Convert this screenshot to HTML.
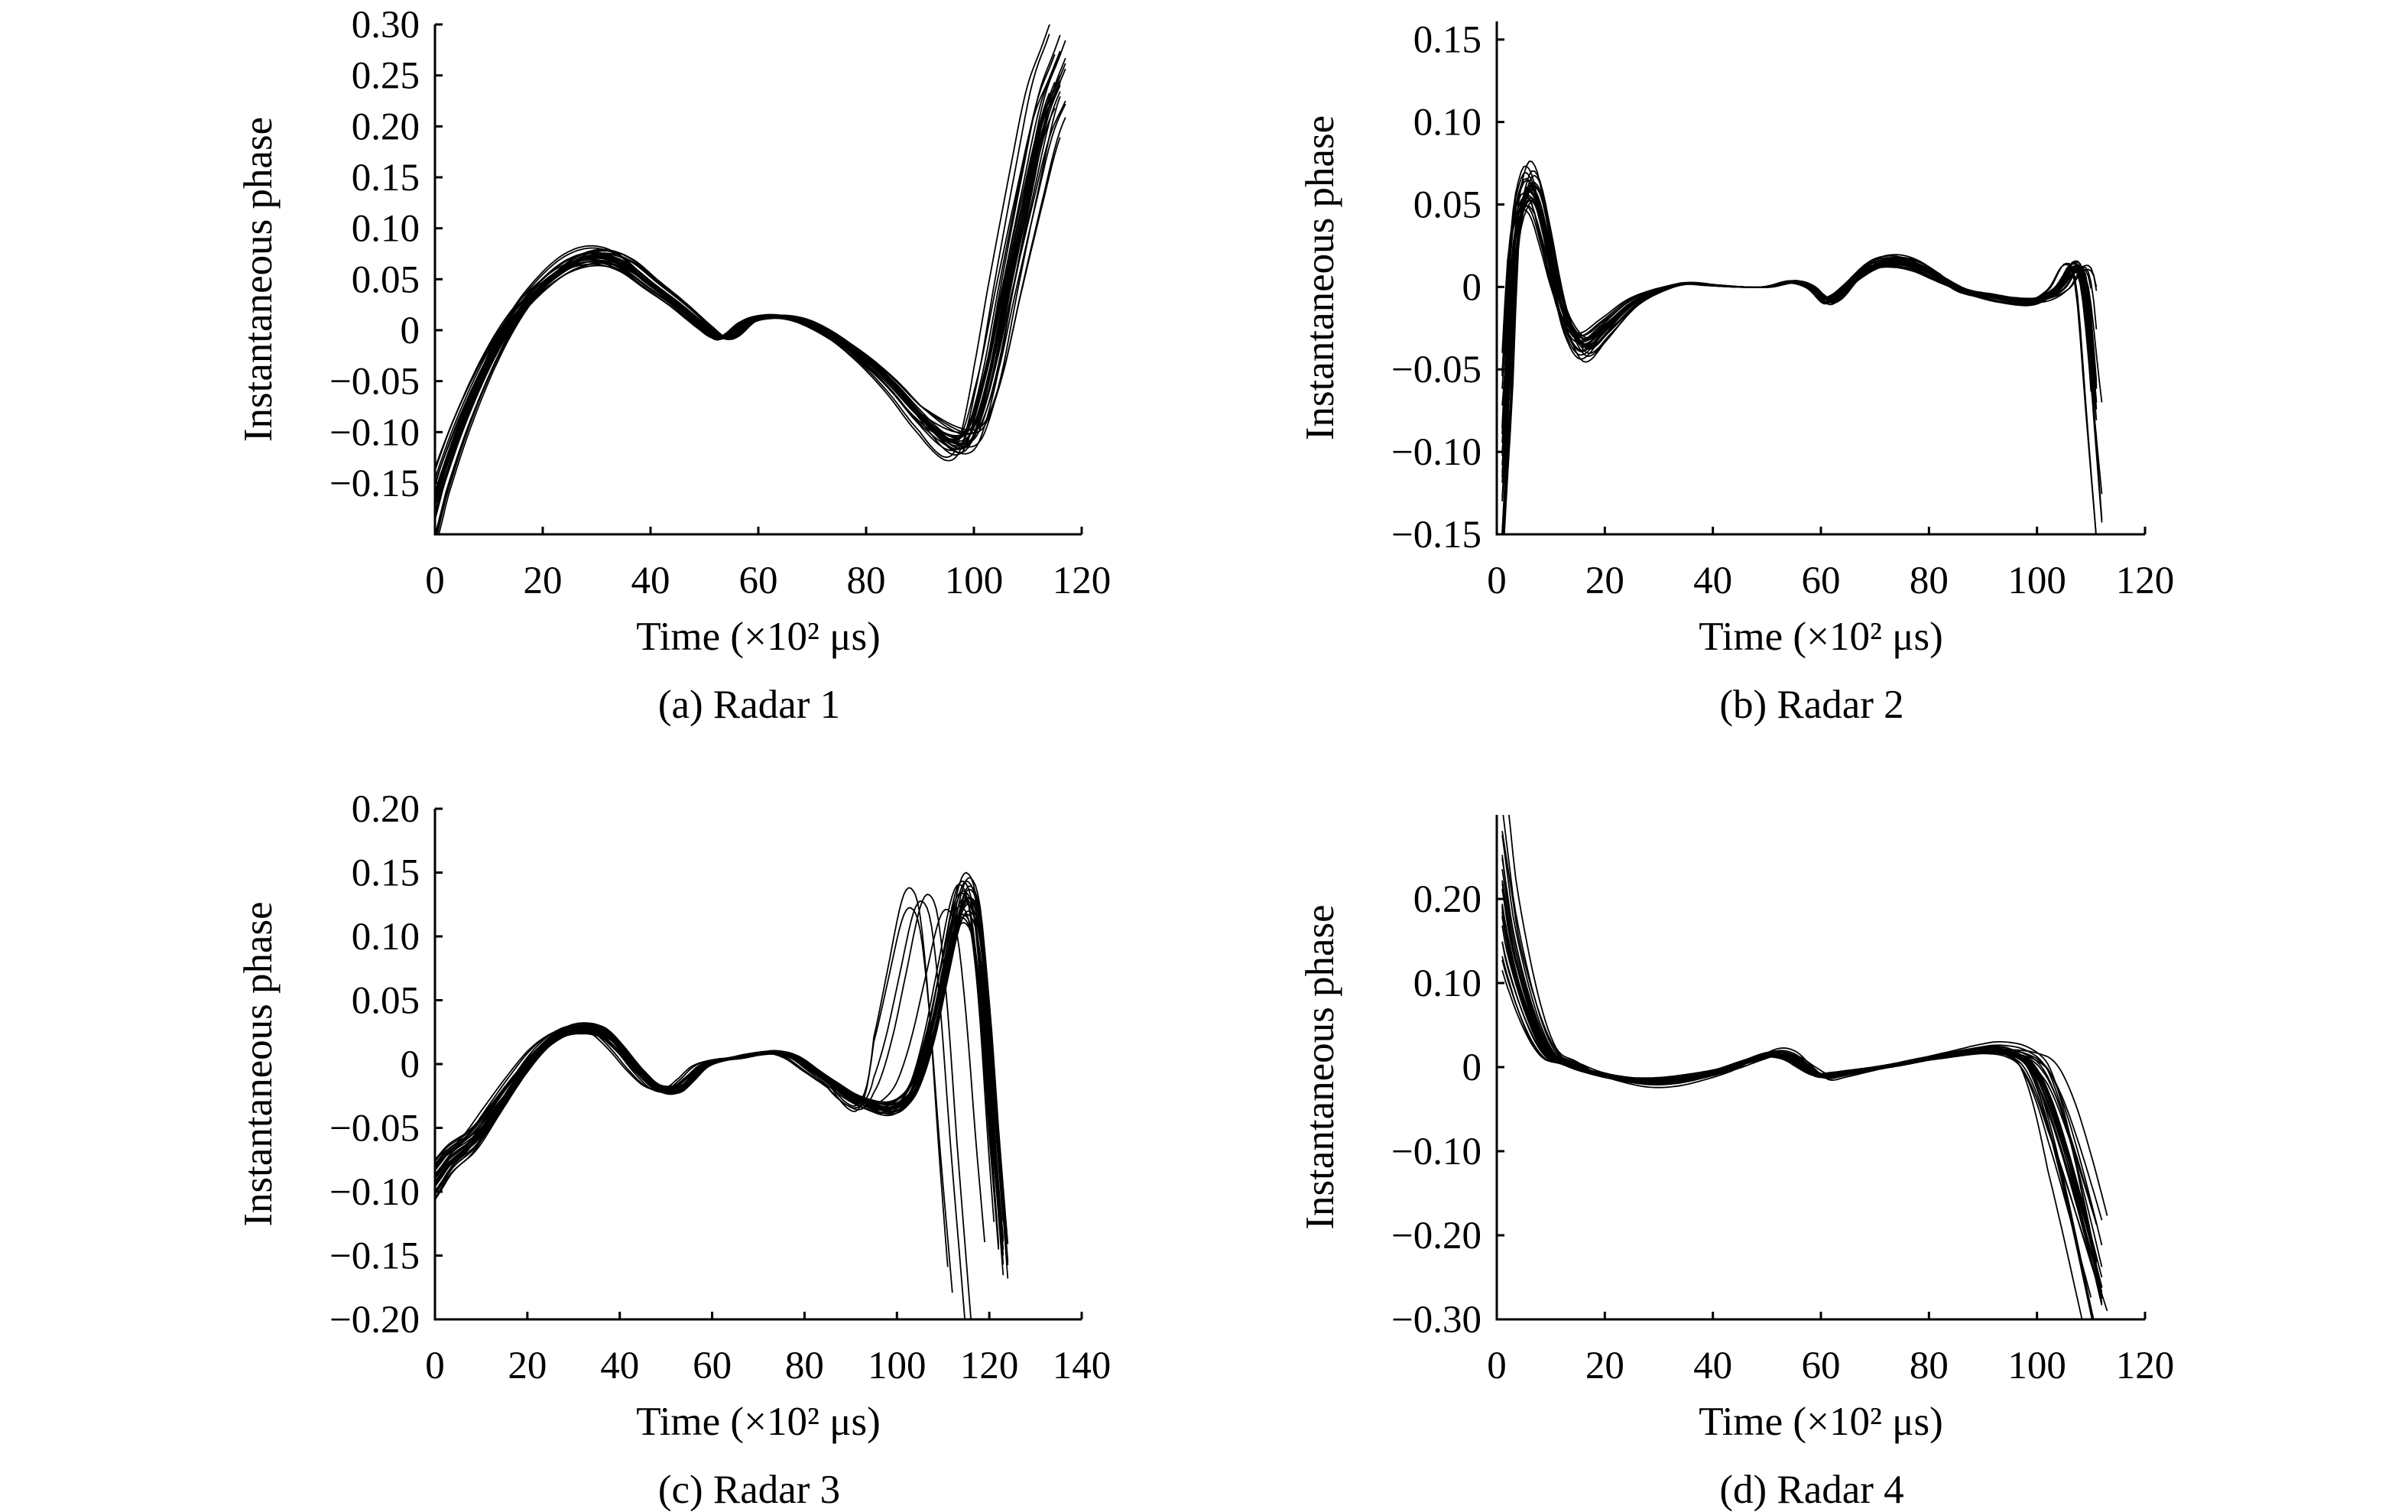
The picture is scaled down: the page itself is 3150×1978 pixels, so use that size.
<!DOCTYPE html>
<html><head><meta charset="utf-8">
<style>
html,body{margin:0;padding:0;background:#fff;}
svg{display:block;}
text{font-family:"Liberation Serif","DejaVu Serif",serif;fill:#000;}
</style></head>
<body>
<svg id="fig" width="3150" height="1978" viewBox="0 0 3150 1978" xmlns="http://www.w3.org/2000/svg"></svg>
<script>
// ---- data (x in ×10^2 µs, y = instantaneous phase) ----
const baseXA = [0,1,5,10,15,20,25,30,35,40,45,50,53,55,58,62,66,70,75,80,85,90,95,98,100,103,106,110,113,116];
const baseYA = [-0.17,-0.15,-0.09,-0.03,0.015,0.045,0.065,0.072,0.065,0.045,0.025,0.003,-0.008,-0.005,0.008,0.013,0.012,0.005,-0.01,-0.03,-0.055,-0.085,-0.108,-0.11,-0.095,-0.04,0.04,0.14,0.21,0.25];
const scaleA = [1.0,0.95,1.05,1.1,0.9,1.02,0.98,1.08,0.93,1.0,1.12,0.88,1.04,0.97,1.01,1.06,0.92,0.99,1.03,0.96,1.09,0.94,1.0,1.15,0.91,1.05];
const shiftA = [0,0.5,-0.5,1,-1,0.3,-0.3,1.5,-1.2,0.8,-0.8,0.2,1.2,-1.5,0.6,-0.6,0.9,-0.2,0.4,-0.9,1.1,-0.4,0.1,-1,0.7,1.3];
const tailA = [0,-1,1,-2,2,-0.5,0.5,-1.5,1.5,0,-2.5,2.5,-1,1,0,-0.8,0.8,-1.8,1.8,0,0.3,-0.3,1.2,-1.2,2,-2];
const endA = [116,117,115,116,117,114,116,117,115,116,117,116,113,117,116,115,117,116,116,115,117,116,116,114,117,116];

const baseXB = [1,2,3,5,7,9,11,13,16,20,25,30,35,40,45,50,55,58,61,63,66,70,74,78,82,86,90,95,100,104,107,109,111];
const baseYB = [-0.10,-0.05,0.02,0.055,0.055,0.03,0.0,-0.022,-0.035,-0.025,-0.01,-0.002,0.002,0.001,0.0,0.0,0.003,0.0,-0.008,-0.006,0.004,0.013,0.015,0.012,0.005,-0.002,-0.005,-0.008,-0.008,-0.001,0.012,0.0,-0.07];
const scaleB = [1.0,0.9,1.1,1.2,0.85,1.05,0.95,1.15,0.8,1.0,1.25,0.9,1.08,0.97,1.02,1.12,0.88,0.99,1.3,0.93,1.06,0.84,1.0,1.18,0.92,1.04];
const shiftB = [0,0.4,-0.4,0.8,-0.8,0.2,-0.2,1,-1,0.6,-0.6,0.1,0.9,-0.9,0.5,-0.5,0.7,-0.1,0.3,-0.7,0.8,-0.3,0.05,-0.6,0.45,0.9];
const tailB = [0,-0.8,0.8,-1.2,1.2,-0.4,0.4,-1.6,1.5,-0.6,0.6,-1,1,0.2,-0.2,-1.4,1.3,0.4,-0.4,0.8,-0.8,0,1.1,-1.1,0.5,-0.5];
const endB = [111,110,111,112,110,111,111,110,112,111,110,111,111,112,110,111,111,110,112,111,111,110,111,112,110,111];

const baseXC = [0,3,8,13,18,23,28,32,36,40,44,48,52,55,58,62,66,70,74,78,82,86,90,94,98,101,104,107,110,113,115,117,119,121,123];
const baseYC = [-0.09,-0.075,-0.06,-0.035,-0.01,0.012,0.025,0.028,0.025,0.012,-0.005,-0.018,-0.02,-0.012,-0.002,0.003,0.005,0.008,0.009,0.005,-0.005,-0.015,-0.025,-0.032,-0.035,-0.03,-0.015,0.02,0.07,0.12,0.13,0.11,0.04,-0.06,-0.15];
const scaleC = [1.0,0.9,1.1,1.05,0.95,1.15,0.85,1.0,1.08,0.92,1.03,0.97,1.12,0.88,1.0,1.06,0.94,1.02,0.98,1.1,0.9,1.0,1.04,0.96,0.93,1.07];
const shiftC = [0,0.5,-0.5,1,-1,0.3,-0.3,1.2,-1.2,0.8,-0.8,0.2,1,-0.6,0.6,0,-0.4,-2,-2.5,0.4,-0.4,0.9,-0.2,0.7,-1,1.1];
const tailC = [0,0,0,0,0,0,0,0,0,0,0,0,0,0,0,-12,-11.5,-6,-7,0,0,0,0,0,-3,0];
const endC = [123,123,122,124,122,123,123,124,121,123,122,123,124,122,123,111,112,117,117,123,122,124,123,123,119,124];

const baseXD = [1,2,4,6,8,10,13,17,22,27,32,37,42,47,51,54,57,60,63,68,73,78,83,88,92,96,99,102,105,108,110,112,114];
const baseYD = [0.19,0.15,0.10,0.06,0.03,0.012,0.005,-0.005,-0.012,-0.016,-0.015,-0.01,-0.003,0.008,0.015,0.012,0.0,-0.01,-0.008,-0.003,0.002,0.008,0.013,0.018,0.02,0.015,0.0,-0.04,-0.10,-0.17,-0.22,-0.27,-0.32];
const scaleD = [1.0,0.9,1.1,1.2,0.85,1.05,0.95,1.3,0.8,1.0,1.15,0.9,1.08,0.97,1.02,1.5,0.88,0.99,1.25,0.93,1.06,0.84,1.0,1.18,0.92,1.04];
const shiftD = [0,0.5,-0.5,1,-1,0.3,-0.3,1.2,-1.2,0.8,-0.8,0.2,1,-1.5,0.6,1.5,0.7,-0.1,0.3,-0.7,0.8,-0.3,0.05,-0.6,0.45,2];
const tailD = [0,-1,1,-2,2,0.5,-0.5,1.5,-1.5,0,-2.5,2.5,1,-1,0,1.8,-1.8,0.7,-0.7,0,2,-2,0.3,-0.3,1.2,3];
const endD = [112,111,112,113,111,112,112,111,113,112,111,112,112,110,111,112,112,111,113,112,112,111,112,113,110,113];

const ticksA_y = ["0.30","0.25","0.20","0.15","0.10","0.05","0","\u22120.05","\u22120.10","\u22120.15"];
const ticksA_yv = [0.30,0.25,0.20,0.15,0.10,0.05,0,-0.05,-0.10,-0.15];
const ticksB_yv = [0.15,0.10,0.05,0,-0.05,-0.10,-0.15];
const ticksB_y = ["0.15","0.10","0.05","0","\u22120.05","\u22120.10","\u22120.15"];
const ticksC_yv = [0.20,0.15,0.10,0.05,0,-0.05,-0.10,-0.15,-0.20];
const ticksC_y = ["0.20","0.15","0.10","0.05","0","\u22120.05","\u22120.10","\u22120.15","\u22120.20"];
const ticksD_yv = [0.20,0.10,0,-0.10,-0.20,-0.30];
const ticksD_y = ["0.20","0.10","0","\u22120.10","\u22120.20","\u22120.30"];
const ticksX120 = [0,20,40,60,80,100,120];
const ticksX140 = [0,20,40,60,80,100,120,140];

const NS = "http://www.w3.org/2000/svg";
const svg = document.getElementById('fig');
function mk(tag, attrs, parent){
  const e = document.createElementNS(NS, tag);
  for (const k in attrs) e.setAttribute(k, attrs[k]);
  (parent||svg).appendChild(e);
  return e;
}
function interp(xs, ys, x){
  if (x <= xs[0]) return ys[0] + (ys[1]-ys[0])/(xs[1]-xs[0])*(x-xs[0]);
  const n = xs.length;
  if (x >= xs[n-1]) return ys[n-1] + (ys[n-1]-ys[n-2])/(xs[n-1]-xs[n-2])*(x-xs[n-1]);
  let i = 0; while (xs[i+1] < x) i++;
  const x0=xs[i], x1=xs[i+1], h=x1-x0, t=(x-x0)/h;
  const y0=ys[i], y1=ys[i+1];
  const m0 = i>0 ? (ys[i+1]-ys[i-1])/(xs[i+1]-xs[i-1]) : (y1-y0)/h;
  const m1 = i+2<n ? (ys[i+2]-ys[i])/(xs[i+2]-xs[i]) : (y1-y0)/h;
  const t2=t*t, t3=t2*t;
  return (2*t3-3*t2+1)*y0 + (t3-2*t2+t)*h*m0 + (-2*t3+3*t2)*y1 + (t3-t2)*h*m1;
}

function panel(cfg){
  const g = mk('g', {});
  
  
  const {x0,x1,y0,y1,xmin,xmax,ymin,ymax} = cfg;
  const sx = v => x0 + (v-xmin)/(xmax-xmin)*(x1-x0);
  const sy = v => y1 - (v-ymin)/(ymax-ymin)*(y1-y0);
  const cid = cfg.name+'-clip';
  const cp = mk('clipPath', {id:cid}, g);
  mk('rect', {x:x0, y:y0, width:x1-x0, height:y1-y0}, cp);
  const lines = mk('g', {'clip-path':'url(#'+cid+')', fill:'none', stroke:'#000', 'stroke-width':1.8}, g);
  
  
  const start = cfg.bx[0];
  for (let k=0;k<cfg.scale.length;k++){
    let d='';
    for (let x=start; x<=cfg.end[k]; x+=0.5){
      const w = Math.max(0, Math.min(1, (x - cfg.tailStart)/10));
      const y = cfg.scale[k]*interp(cfg.bx, cfg.by, x - cfg.shift[k] - cfg.tail[k]*w);
      d += (d?'L':'M') + sx(x).toFixed(1) + ' ' + sy(y).toFixed(1);
    }
    const p = mk('path', {d:d}, lines);
    
    
  }
  const ax = mk('path', {d:`M${x0} ${y0}L${x0} ${y1}L${x1} ${y1}`, fill:'none', stroke:'#000', 'stroke-width':3}, g);
  
  
  cfg.yv.forEach((v,i)=>{
    mk('line', {x1:x0, x2:x0+10, y1:sy(v), y2:sy(v), stroke:'#000','stroke-width':3}, g);
    const t = mk('text', {x:x0-20, y:sy(v)+17, 'text-anchor':'end', 'font-size':51}, g);
    t.textContent = cfg.yl[i];
    
    
  });
  cfg.xt.forEach(v=>{
    mk('line', {x1:sx(v), x2:sx(v), y1:y1, y2:y1-10, stroke:'#000','stroke-width':3}, g);
    const t = mk('text', {x:sx(v), y:y1+77, 'text-anchor':'middle', 'font-size':51}, g);
    t.textContent = v;
    
    
  });
  const cx = (x0+x1)/2, cy=(y0+y1)/2;
  const yl = mk('text', {x:0, y:0, transform:`translate(${x0-214},${cy}) rotate(-90)`, 'text-anchor':'middle', 'font-size':53}, g);
  yl.textContent = 'Instantaneous phase';
  
  
  const xl = mk('text', {x:cx, y:y1+151, 'text-anchor':'middle', 'font-size':53}, g);
  xl.textContent = 'Time (\u00d710\u00b2 \u03bcs)';
  
  
  const cap = mk('text', {x:cx-12, y:y1+240, 'text-anchor':'middle', 'font-size':53}, g);
  cap.textContent = cfg.caption;
  
  
}

panel({name:'panel-radar-1', x0:569, x1:1415, y0:32, y1:699, xmin:0, xmax:120, ymin:-0.2003, ymax:0.30,
  bx:baseXA, by:baseYA, scale:scaleA, shift:shiftA, tail:tailA, tailStart:90, end:endA, yv:ticksA_yv, yl:ticksA_y, xt:ticksX120, caption:'(a) Radar 1'});
panel({name:'panel-radar-2', x0:1958, x1:2806, y0:28, y1:699, xmin:0, xmax:120, ymin:-0.15, ymax:0.161,
  bx:baseXB, by:baseYB, scale:scaleB, shift:shiftB, tail:tailB, tailStart:82, end:endB, yv:ticksB_yv, yl:ticksB_y, xt:ticksX120, caption:'(b) Radar 2'});
panel({name:'panel-radar-3', x0:569, x1:1415, y0:1058, y1:1726, xmin:0, xmax:140, ymin:-0.20, ymax:0.20,
  bx:baseXC, by:baseYC, scale:scaleC, shift:shiftC, tail:tailC, tailStart:85, end:endC, yv:ticksC_yv, yl:ticksC_y, xt:ticksX140, caption:'(c) Radar 3'});
panel({name:'panel-radar-4', x0:1958, x1:2806, y0:1066, y1:1726, xmin:0, xmax:120, ymin:-0.30, ymax:0.30,
  bx:baseXD, by:baseYD, scale:scaleD, shift:shiftD, tail:tailD, tailStart:92, end:endD, yv:ticksD_yv, yl:ticksD_y, xt:ticksX120, caption:'(d) Radar 4'});
</script>
</body></html>
